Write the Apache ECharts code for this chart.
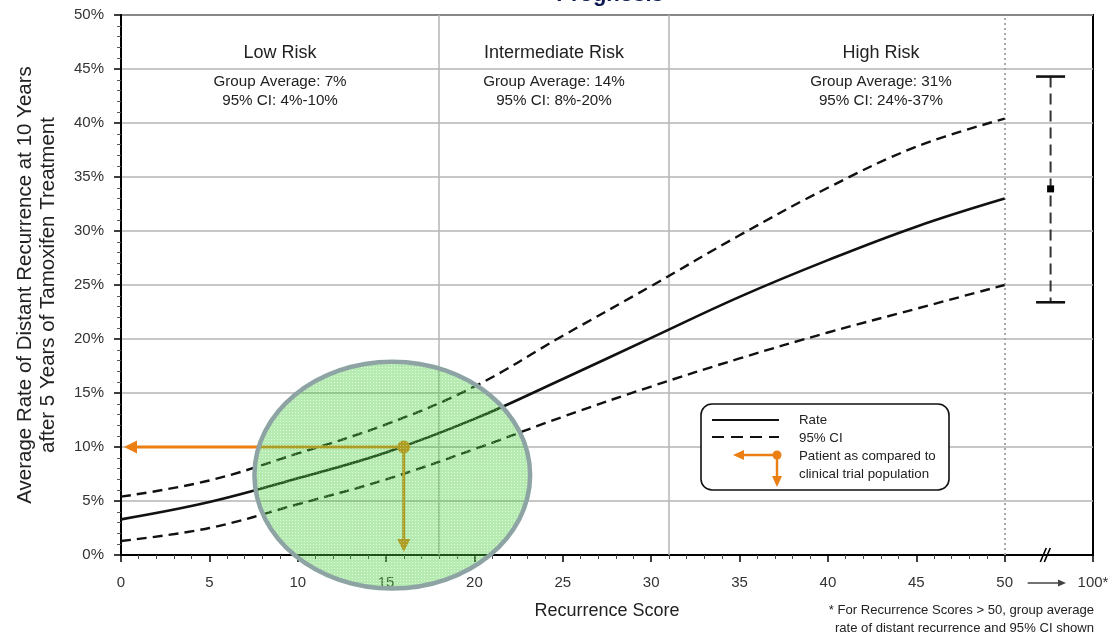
<!DOCTYPE html>
<html><head><meta charset="utf-8">
<script src="https://cdn.jsdelivr.net/npm/echarts@6/dist/echarts.min.js"></script>
<style>html,body{margin:0;padding:0;background:#fff}#c{width:1113px;height:634px}</style>
</head><body><div id="c"></div>
<script>
// ---- data ----
const scores  = [0, 5, 10, 15, 20, 25, 30, 35, 40, 45, 50];
const rate    = [3.3, 4.9, 7.1, 9.5, 12.6, 16.3, 20.1, 23.9, 27.3, 30.4, 33.0];
const ciUpper = [5.4, 6.9, 9.4, 12.1, 15.6, 20.3, 24.9, 29.6, 34.0, 37.8, 40.4];
const ciLower = [1.3, 2.5, 4.7, 7.0, 9.8, 12.8, 15.6, 18.2, 20.6, 22.8, 25.0];
const riskCutoffs = [18, 31];
const capScore = 50;
const groupNames    = ['Low Risk', 'Intermediate Risk', 'High Risk'];
const groupAverages = ['7%', '14%', '31%'];
const groupCIs      = ['4%-10%', '8%-20%', '24%-37%'];
const groupStart = [0, 18, 31];
const groupEnd   = [18, 31, 55];
const patientScore = 16, patientRate = 10;
const highGroupX = 52.6, highGroupMid = 33.9, highGroupLow = 23.4, highGroupHigh = 44.3;
const highlightCenter = [15.35, 7.4]; // score, %
const highlightRadius = [7.8, 10.5];  // score units, % units
const breakAt = 52.3;
const xTickValues = [0, 5, 10, 15, 20, 25, 30, 35, 40, 45, 50, 55];
const xTickLabels = ['0', '5', '10', '15', '20', '25', '30', '35', '40', '45', '50', '100*'];
const yTickLabels = ['0%', '5%', '10%', '15%', '20%', '25%', '30%', '35%', '40%', '45%', '50%'];

const FONT = "'Liberation Sans', Arial, sans-serif";
const ORANGE = '#ec7f13';
const LINE = '#111';

const pair = (xs, ys) => xs.map((x, i) => [x, ys[i]]);

// dotted green pattern for highlight ellipse
const pat = document.createElement('canvas');
pat.width = 3; pat.height = 3;
(function () {
  const g = pat.getContext('2d');
  g.fillStyle = 'rgba(70,205,60,0.40)';
  g.fillRect(0, 0, 3, 3);
  g.clearRect(1, 1, 1, 1);
  g.fillStyle = 'rgba(200,245,195,0.55)';
  g.fillRect(1, 1, 1, 1);
})();

const chart = echarts.init(document.getElementById('c'), null, { renderer: 'canvas' });

const option = {
  animation: false,
  backgroundColor: '#fff',
  textStyle: { fontFamily: FONT },
  grid: [
    { left: 121, right: 20, top: 15, bottom: 79, show: true, borderColor: '#000', borderWidth: 2, containLabel: false, outerBoundsMode: 'none' },
    { left: 121, right: 108.4, top: 15, bottom: 79, show: false, containLabel: false, outerBoundsMode: 'none' }
  ],
  xAxis: [{
    type: 'value', gridIndex: 0, min: 0, max: 55, interval: 5,
    name: 'Recurrence Score', nameLocation: 'middle', nameGap: 47, nameMoveOverlap: false,
    nameTextStyle: { fontSize: 18, color: '#222', fontFamily: FONT },
    axisLine: { show: true, onZero: false, lineStyle: { color: '#000', width: 2 } },
    axisTick: { show: true, length: 7, lineStyle: { color: '#000', width: 1.5 } },
    axisLabel: {
      margin: 20, fontSize: 15, color: '#333', fontFamily: FONT,
      formatter: v => { const i = xTickValues.indexOf(v); return i >= 0 ? xTickLabels[i] : ''; }
    },
    splitLine: { show: false }
  }, {
    type: 'value', gridIndex: 1, min: 0, max: 50, interval: 5,
    axisLine: { show: false }, axisTick: { show: false }, axisLabel: { show: false },
    splitLine: { show: false },
    minorTick: { show: true, splitNumber: 5, length: 4, lineStyle: { color: '#444', width: 1 } }
  }],
  yAxis: [{
    type: 'value', gridIndex: 0, min: 0, max: 50, interval: 5,
    name: 'Average Rate of Distant Recurrence at 10 Years\nafter 5 Years of Tamoxifen Treatment',
    nameLocation: 'middle', nameRotate: 90, nameGap: 61, nameMoveOverlap: false,
    nameTextStyle: { fontSize: 20.5, color: '#222', lineHeight: 23, fontFamily: FONT },
    axisLine: { show: true, onZero: false, lineStyle: { color: '#000', width: 2 } },
    axisTick: { show: true, length: 7, lineStyle: { color: '#000', width: 1.5 } },
    minorTick: { show: true, splitNumber: 5, length: 4, lineStyle: { color: '#555', width: 1 } },
    axisLabel: {
      margin: 17, fontSize: 15, color: '#333', fontFamily: FONT,
      formatter: v => yTickLabels[Math.round(v / 5)] || ''
    },
    splitLine: { show: true, lineStyle: { color: '#b4b4b4', width: 1.5 } }
  }, {
    type: 'value', gridIndex: 1, min: 0, max: 50, show: false
  }],
  series: [
    {
      name: 'Rate', type: 'line', data: pair(scores, rate), smooth: 0.4, showSymbol: false,
      lineStyle: { color: LINE, width: 2.6 }, z: 5,
      markLine: {
        silent: true, symbol: 'none', label: { show: false },
        data: [
          ...riskCutoffs.map(v => ({ xAxis: v, lineStyle: { color: '#b4b4b4', width: 1.5, type: 'solid' } })),
          { xAxis: capScore, lineStyle: { color: '#a8a8a8', width: 2, type: [2, 3] } }
        ],
        z: 1
      }
    },
    {
      name: '95% CI upper', type: 'line', data: pair(scores, ciUpper), smooth: 0.4, showSymbol: false,
      lineStyle: { color: LINE, width: 2.4, type: [10, 6] }, z: 5
    },
    {
      name: '95% CI lower', type: 'line', data: pair(scores, ciLower), smooth: 0.4, showSymbol: false,
      lineStyle: { color: LINE, width: 2.4, type: [10, 6] }, z: 5
    },
    {
      // risk group header labels
      type: 'custom', coordinateSystem: 'cartesian2d', silent: true, z: 6,
      data: groupNames.map((n, i) => [groupStart[i], groupEnd[i], i]),
      renderItem: (params, api) => {
        const i = api.value(2);
        const a = api.coord([api.value(0), 50]);
        const b = api.coord([api.value(1), 50]);
        const cx = (a[0] + b[0]) / 2, top = a[1];
        return {
          type: 'group', children: [
            { type: 'text', style: { text: groupNames[i], x: cx, y: top + 38, align: 'center', verticalAlign: 'middle', font: `18px ${FONT}`, fill: '#222' } },
            { type: 'text', style: { text: 'Group Average: ' + groupAverages[i], x: cx, y: top + 67, align: 'center', verticalAlign: 'middle', font: `15.2px ${FONT}`, fill: '#222' } },
            { type: 'text', style: { text: '95% CI: ' + groupCIs[i], x: cx, y: top + 86, align: 'center', verticalAlign: 'middle', font: `15.2px ${FONT}`, fill: '#222' } }
          ]
        };
      }
    },
    {
      // high-score group average with CI
      type: 'custom', coordinateSystem: 'cartesian2d', silent: true, z: 6, clip: false,
      data: [[highGroupX, highGroupLow, highGroupHigh, highGroupMid]],
      renderItem: (params, api) => {
        const lo = api.coord([api.value(0), api.value(1)]);
        const hi = api.coord([api.value(0), api.value(2)]);
        const md = api.coord([api.value(0), api.value(3)]);
        const x = lo[0], w = 14.5;
        return {
          type: 'group', children: [
            { type: 'line', shape: { x1: x, y1: hi[1], x2: x, y2: lo[1] }, style: { stroke: '#333', lineWidth: 2, lineDash: [11, 6] } },
            { type: 'line', shape: { x1: x - w, y1: hi[1], x2: x + w, y2: hi[1] }, style: { stroke: '#111', lineWidth: 2.6 } },
            { type: 'line', shape: { x1: x - w, y1: lo[1], x2: x + w, y2: lo[1] }, style: { stroke: '#111', lineWidth: 2.6 } },
            { type: 'rect', shape: { x: x - 3.5, y: md[1] - 3.5, width: 7, height: 7 }, style: { fill: '#000' } }
          ]
        };
      }
    },
    {
      // patient marker with arrows to both axes
      type: 'custom', coordinateSystem: 'cartesian2d', silent: true, z: 7, clip: false,
      data: [[patientScore, patientRate]],
      renderItem: (params, api) => {
        const p = api.coord([api.value(0), api.value(1)]);
        const l = api.coord([0, api.value(1)]);
        const d = api.coord([api.value(0), 0]);
        const tipL = l[0] + 3, tipD = d[1] - 3;
        const st = { stroke: ORANGE, lineWidth: 3 };
        return {
          type: 'group', children: [
            { type: 'line', shape: { x1: p[0], y1: p[1], x2: tipL + 10, y2: p[1] }, style: st },
            { type: 'polygon', shape: { points: [[tipL, p[1]], [tipL + 13, p[1] - 6.5], [tipL + 13, p[1] + 6.5]] }, style: { fill: ORANGE } },
            { type: 'line', shape: { x1: p[0], y1: p[1], x2: p[0], y2: tipD - 10 }, style: st },
            { type: 'polygon', shape: { points: [[p[0], tipD], [p[0] - 6.5, tipD - 13], [p[0] + 6.5, tipD - 13]] }, style: { fill: ORANGE } },
            { type: 'circle', shape: { cx: p[0], cy: p[1], r: 6.5 }, style: { fill: ORANGE } }
          ]
        };
      }
    },
    {
      // green highlight ellipse overlay
      type: 'custom', coordinateSystem: 'cartesian2d', silent: true, z: 9, clip: false,
      data: [[highlightCenter[0], highlightCenter[1], highlightRadius[0], highlightRadius[1]]],
      renderItem: (params, api) => {
        const c = api.coord([api.value(0), api.value(1)]);
        const s = api.size([api.value(2), api.value(3)]);
        return {
          type: 'ellipse', shape: { cx: c[0], cy: c[1], rx: s[0], ry: s[1] },
          style: { fill: { image: pat, repeat: 'repeat' }, stroke: '#8ea4a4', lineWidth: 4.5 }
        };
      }
    },
    {
      // axis break mark and arrow between 50 and 100*
      type: 'custom', coordinateSystem: 'cartesian2d', silent: true, z: 8, clip: false,
      data: [[breakAt, capScore, 55]],
      renderItem: (params, api) => {
        const b = api.coord([api.value(0), 0]);
        const a = api.coord([api.value(1), 0]);
        const e = api.coord([api.value(2), 0]);
        const ly = a[1] + 28;
        const x1 = a[0] + 23, x2 = e[0] - 27;
        return {
          type: 'group', children: [
            { type: 'line', shape: { x1: b[0] - 5, y1: b[1] + 7, x2: b[0] + 1, y2: b[1] - 7 }, style: { stroke: '#000', lineWidth: 1.6 } },
            { type: 'line', shape: { x1: b[0] - 1, y1: b[1] + 7, x2: b[0] + 5, y2: b[1] - 7 }, style: { stroke: '#000', lineWidth: 1.6 } },
            { type: 'line', shape: { x1: x1, y1: ly, x2: x2 - 6, y2: ly }, style: { stroke: '#444', lineWidth: 1.3 } },
            { type: 'polygon', shape: { points: [[x2, ly], [x2 - 8, ly - 3.5], [x2 - 8, ly + 3.5]] }, style: { fill: '#444' } }
          ]
        };
      }
    }
  ],
  graphic: [
    { type: 'text', style: { text: 'Prognosis', x: 610, y: -5, align: 'center', verticalAlign: 'middle', font: `bold 22px ${FONT}`, fill: '#0c1850' } },
    // legend box
    { type: 'rect', shape: { x: 701, y: 404, width: 248, height: 86, r: 11 }, style: { fill: '#fff', stroke: '#111', lineWidth: 1.6 }, z: 20 },
    { type: 'line', shape: { x1: 712, y1: 420, x2: 779, y2: 420 }, style: { stroke: '#111', lineWidth: 1.8 }, z: 21 },
    { type: 'line', shape: { x1: 712, y1: 437, x2: 779, y2: 437 }, style: { stroke: '#111', lineWidth: 1.8, lineDash: [12, 7] }, z: 21 },
    { type: 'line', shape: { x1: 742, y1: 455, x2: 777, y2: 455 }, style: { stroke: ORANGE, lineWidth: 2.4 }, z: 21 },
    { type: 'polygon', shape: { points: [[733, 455], [744, 450], [744, 460]] }, style: { fill: ORANGE }, z: 21 },
    { type: 'line', shape: { x1: 777, y1: 455, x2: 777, y2: 478 }, style: { stroke: ORANGE, lineWidth: 2.4 }, z: 21 },
    { type: 'polygon', shape: { points: [[777, 487], [772, 476], [782, 476]] }, style: { fill: ORANGE }, z: 21 },
    { type: 'circle', shape: { cx: 777, cy: 455, r: 4.5 }, style: { fill: ORANGE }, z: 21 },
    { type: 'text', style: { text: 'Rate', x: 799, y: 420, verticalAlign: 'middle', font: `13.3px ${FONT}`, fill: '#222' }, z: 21 },
    { type: 'text', style: { text: '95% CI', x: 799, y: 438, verticalAlign: 'middle', font: `13.3px ${FONT}`, fill: '#222' }, z: 21 },
    { type: 'text', style: { text: 'Patient as compared to', x: 799, y: 456, verticalAlign: 'middle', font: `13.3px ${FONT}`, fill: '#222' }, z: 21 },
    { type: 'text', style: { text: 'clinical trial population', x: 799, y: 474, verticalAlign: 'middle', font: `13.3px ${FONT}`, fill: '#222' }, z: 21 },
    // footnote
    { type: 'text', style: { text: '* For Recurrence Scores > 50, group average', x: 1094, y: 610, align: 'right', verticalAlign: 'middle', font: `13.1px ${FONT}`, fill: '#222' } },
    { type: 'text', style: { text: 'rate of distant recurrence and 95% CI shown', x: 1094, y: 628, align: 'right', verticalAlign: 'middle', font: `13.1px ${FONT}`, fill: '#222' } }
  ]
};
chart.setOption(option);
</script></body></html>
